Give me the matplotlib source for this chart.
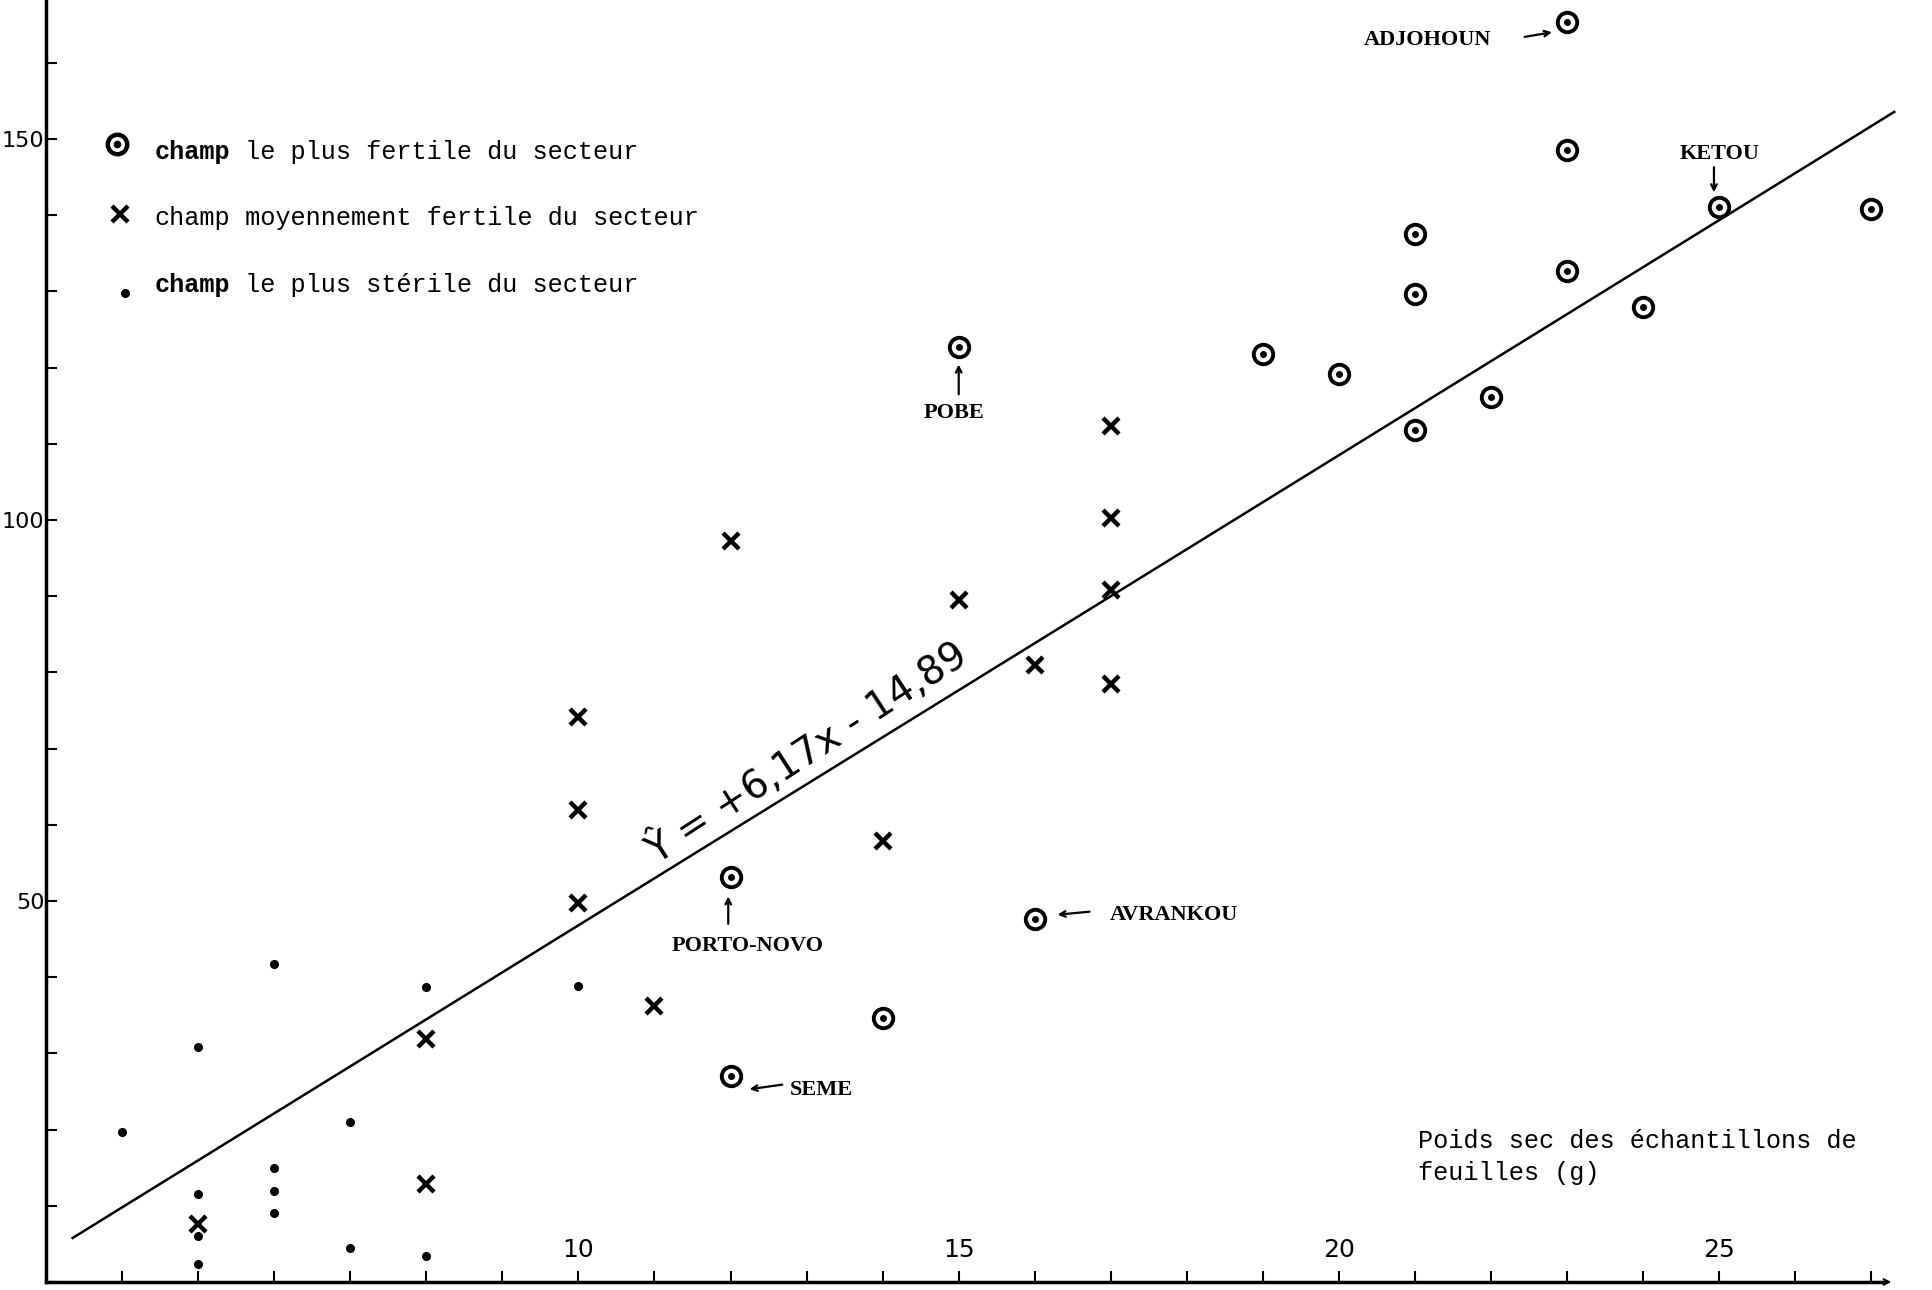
import matplotlib
matplotlib.use('Agg')

import numpy as np
import matplotlib.pyplot as plt

# champ le plus fertile du secteur
fert_x = [23, 23, 25, 27, 21, 21, 23, 24, 19, 20, 15, 22, 21, 12, 16, 14, 12]
fert_y = [165.4, 148.5, 141.1, 140.8, 137.5, 129.6, 132.7, 128.0, 121.8,
          119.1, 122.7, 116.2, 111.8, 53.1, 47.7, 34.6, 27.0]

# champ moyennement fertile du secteur
mid_x = [17, 17, 17, 17, 12, 15, 16, 10, 10, 10, 14, 11, 8, 8, 5]
mid_y = [112.3, 100.3, 90.8, 78.5, 97.2, 89.5, 81.0, 74.1, 62.0, 49.7,
         57.9, 36.2, 31.9, 12.8, 7.6]

# champ le plus sterile du secteur
ster_x = [4, 5, 5, 5, 5, 6, 6, 6, 6, 7, 7, 8, 8, 10]
ster_y = [19.7, 30.9, 11.5, 6.0, 2.3, 41.7, 14.9, 12.0, 9.1, 21.0, 4.4,
          38.7, 3.4, 38.8]

# regression line  Y = 6,17 x - 14,89
slope, intercept = 6.17, -14.89
line_x = np.array([3.35, 27.3])

x_ticks = list(range(3, 28))
x_ticklabels = ['10', '15', '20', '25']
y_ticks = list(range(0, 170, 10))
y_ticklabels = ['50', '100', '150']

mono = 'Liberation Mono'

fig = plt.figure(figsize=(19.33, 12.9), dpi=100)
ax = fig.add_axes([0, 0, 1, 1])
ax.set_xlim(2.395, 27.81)
ax.set_ylim(-1.05, 168.24)

# axes drawn like the hand-made graph
for s in ['top', 'right']:
    ax.spines[s].set_visible(False)
ax.spines['left'].set_position(('data', 3))
ax.spines['bottom'].set_position(('data', 0))
ax.spines['left'].set_bounds(0, 168.24)
ax.spines['bottom'].set_bounds(3, 27.15)
ax.spines['left'].set_linewidth(2.5)
ax.spines['bottom'].set_linewidth(2.5)

ax.set_xticks(x_ticks)
ax.set_xticklabels([str(v) if str(v) in x_ticklabels else '' for v in x_ticks],
                   fontsize=18)
ax.set_yticks(y_ticks)
ax.set_yticklabels([str(v) if str(v) in y_ticklabels else '' for v in y_ticks],
                   fontsize=16)
ax.tick_params(axis='x', direction='in', length=8, width=1.5, pad=-32)
ax.tick_params(axis='y', direction='in', length=8, width=1.5, pad=1)
ax.annotate('', xy=(27.3, 0), xytext=(26.9, 0),
            arrowprops=dict(arrowstyle='->', lw=1.5, color='black'))

# regression line
ax.plot(line_x, slope * line_x + intercept, color='black', lw=1.8)
ax.text(13.0, 69.5, 'Ŷ = +6,17x - 14,89', rotation=33, rotation_mode='anchor',
        ha='center', va='center', fontsize=28)

# points
ax.plot(fert_x, fert_y, 'o', ms=14, mfc='none', mec='black', mew=2.8)
ax.plot(fert_x, fert_y, 'o', ms=4, color='black')
ax.plot(mid_x, mid_y, 'x', ms=12, mec='black', mew=3.2)
ax.plot(ster_x, ster_y, 'o', ms=5.5, color='black')

# named fields
notes = [
    ('ADJOHOUN', (20.33, 163.0), 'left', (22.44, 163.4), (22.8, 164.0)),
    ('KETOU', (25.0, 148.0), 'center', (24.93, 146.3), (24.93, 143.0)),
    ('POBE', (14.94, 114.0), 'center', (15.0, 116.5), (15.0, 120.4)),
    ('PORTO-NOVO', (12.22, 44.1), 'center', (11.97, 47.0), (11.97, 50.6)),
    ('AVRANKOU', (16.98, 48.2), 'left', (16.72, 48.6), (16.3, 48.2)),
    ('SEME', (12.78, 25.2), 'left', (12.68, 25.9), (12.25, 25.3)),
]
for name, pos, ha, a0, a1 in notes:
    ax.text(pos[0], pos[1], name, ha=ha, va='center', family='Liberation Serif',
            fontsize=16, fontweight='bold')
    ax.annotate('', xy=a1, xytext=a0,
                arrowprops=dict(arrowstyle='->', lw=1.6, color='black',
                                shrinkA=0, shrinkB=0))

# legend
leg_rows = [
    ('o', 'champ', ' le plus fertile du secteur', True),
    ('x', 'champ', ' moyennement fertile du secteur', False),
    ('.', 'champ', ' le plus stérile du secteur', True),
]
row_y = [0.882, 0.831, 0.779]
for (mk, w1, rest, bold), yy in zip(leg_rows, row_y):
    if mk == 'o':
        ax.plot([0.0605], [yy + 0.006], 'o', ms=14, mfc='none', mec='black',
                mew=3.2, transform=ax.transAxes)
        ax.plot([0.0605], [yy + 0.006], 'o', ms=4.5, color='black',
                transform=ax.transAxes)
    elif mk == 'x':
        ax.plot([0.062], [yy + 0.003], 'x', ms=11, mec='black', mew=3.2,
                transform=ax.transAxes)
    else:
        ax.plot([0.0645], [yy - 0.006], 'o', ms=5.5, color='black',
                transform=ax.transAxes)
    t1 = ax.text(0.080, yy, w1, transform=ax.transAxes, family=mono,
                 fontsize=18.2, fontweight='bold' if bold else 'normal',
                 va='center')
    ax.annotate(rest, xy=(1, 0), xycoords=t1, va='bottom', family=mono,
                fontsize=18.2)

# axis title
ax.text(0.7335, 0.103, 'Poids sec des échantillons de\nfeuilles (g)',
        transform=ax.transAxes, family=mono, fontsize=18.2, va='center',
        ha='left', linespacing=1.45)

fig.savefig('out.png', dpi=100)
